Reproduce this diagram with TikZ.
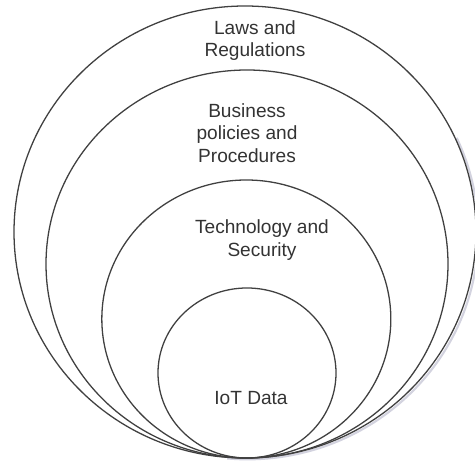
\documentclass[tikz,border=0pt]{standalone}
\usepackage{fontspec}
\setmainfont{Liberation Sans}
\usepackage{tikz}

\begin{document}
\begin{tikzpicture}[ring/.style={draw=black!75, line width=1.1pt},
  lbl/.style={align=center, text=black!80, font=\fontsize{16.3}{19}\selectfont}]
\useasboundingbox (0,0) rectangle (14.25,13.83);
\coordinate (base) at (7.38,0.09);

% faint shadow under the outer ring, lower right only
\draw[blue!15!gray!30, line width=1.8pt] (base) ++(0.04,6.74) ++(-95:6.93 and 6.78)
  arc[start angle=-95, end angle=25, x radius=6.93, y radius=6.78];

\draw[ring] (base) ++(-0.03,6.78) ellipse (6.93 and 6.78);
\draw[ring] (base) ++(0.03,5.82) ellipse (6.03 and 5.82);
\draw[ring] (base) ++(0.01,4.17) ellipse (4.335 and 4.17);
\draw[ring] (base) ++(0.03,2.55) ellipse (2.67 and 2.55);

\node[lbl] (laws) at (7.65,12.62) {Laws and\\Regulations};
\node[lbl] (business) at (7.41,9.84) {Business\\policies and\\Procedures};
\node[lbl] (tech) at (7.86,6.63) {Technology and\\Security};
\node[lbl] (iot) at (7.53,1.89) {IoT Data};
\end{tikzpicture}
\end{document}
